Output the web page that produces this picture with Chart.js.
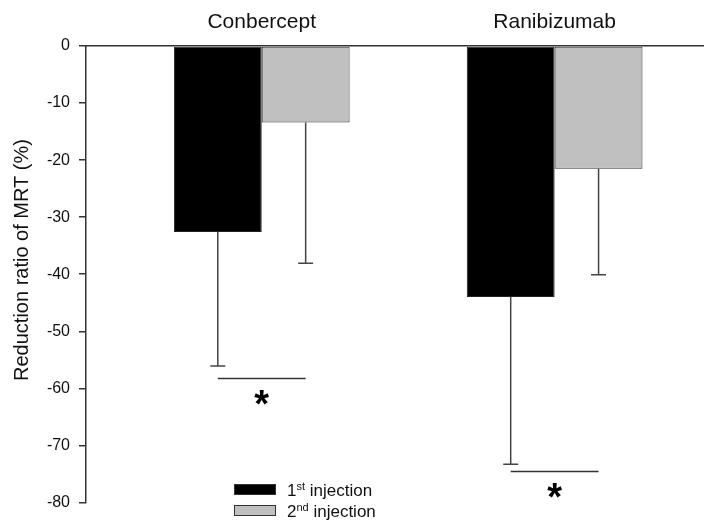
<!DOCTYPE html>
<html>
<head>
<meta charset="utf-8">
<script src="https://cdn.jsdelivr.net/npm/chart.js@4"></script>
<style>
  html, body { margin: 0; padding: 0; background: #fff; }
  #c { display: block; }
</style>
</head>
<body>
<canvas id="c" width="704" height="521"></canvas>
<script>
// ---- data ----
const categories = ['Conbercept', 'Ranibizumab'];
const catPos = [1, 2];
const firstInjection = [-32.6, -44.0];
const secondInjection = [-13.4, -21.5];
const firstSD = [23.5, 29.3];
const secondSD = [24.7, 18.6];
const sigLevel = [-58.3, -74.6];
const sigMark = ['*', '*'];
const legendNum = ['1', '2'];
const legendSup = ['st', 'nd'];
const legendRest = [' injection', ' injection'];
const yTitle = 'Reduction ratio of MRT (%)';
const yMin = -80, yMax = 0, yStep = 10;

const FONT = '"Liberation Sans", Arial, sans-serif';
const sdList = [firstSD, secondSD];

const errorBars = {
  id: 'errorBars',
  afterDatasetsDraw(chart) {
    const ctx = chart.ctx;
    const ys = chart.scales.y;
    ctx.save();
    ctx.strokeStyle = '#444';
    ctx.lineWidth = 1.5;
    chart.data.datasets.forEach((ds, i) => {
      const meta = chart.getDatasetMeta(i);
      meta.data.forEach((el, j) => {
        const v = ds.data[j].y;
        const yEnd = ys.getPixelForValue(v - sdList[i][j]);
        ctx.beginPath();
        ctx.moveTo(el.x, el.y);
        ctx.lineTo(el.x, yEnd);
        ctx.moveTo(el.x - 7.5, yEnd);
        ctx.lineTo(el.x + 7.5, yEnd);
        ctx.stroke();
      });
    });
    // significance lines
    const m0 = chart.getDatasetMeta(0), m1 = chart.getDatasetMeta(1);
    sigLevel.forEach((lv, j) => {
      const y = ys.getPixelForValue(lv);
      const x0 = m0.data[j].x, x1 = m1.data[j].x;
      ctx.strokeStyle = '#333';
      ctx.lineWidth = 1.5;
      ctx.beginPath();
      ctx.moveTo(x0, y);
      ctx.lineTo(x1, y);
      ctx.stroke();
      ctx.fillStyle = '#000';
      ctx.font = 'bold 38px ' + FONT;
      ctx.textAlign = 'center';
      ctx.textBaseline = 'alphabetic';
      ctx.fillText(sigMark[j], (x0 + x1) / 2, y + 38);
    });
    ctx.restore();
  }
};

const customLegend = {
  id: 'customLegend',
  afterDraw(chart) {
    const ctx = chart.ctx;
    const ds = chart.data.datasets;
    ctx.save();
    // y-axis title
    ctx.save();
    ctx.translate(22, 260);
    ctx.rotate(-Math.PI / 2);
    ctx.fillStyle = '#111';
    ctx.font = '20px ' + FONT;
    ctx.textAlign = 'center';
    ctx.textBaseline = 'middle';
    ctx.fillText(yTitle, 0, 0);
    ctx.restore();
    ds.forEach((d, i) => {
      const by = 484 + i * 21;
      ctx.fillStyle = d.backgroundColor;
      ctx.fillRect(234, by, 42, 11);
      ctx.strokeStyle = '#333';
      ctx.lineWidth = 1;
      ctx.strokeRect(234.5, by + 0.5, 41, 10);
      ctx.fillStyle = '#111';
      ctx.textAlign = 'left';
      ctx.textBaseline = 'alphabetic';
      const base = by + 12;
      let x = 287;
      ctx.font = '17px ' + FONT;
      ctx.fillText(legendNum[i], x, base);
      x += ctx.measureText(legendNum[i]).width;
      ctx.font = '11px ' + FONT;
      ctx.fillText(legendSup[i], x, base - 6);
      x += ctx.measureText(legendSup[i]).width;
      ctx.font = '17px ' + FONT;
      ctx.fillText(legendRest[i], x, base);
    });
    ctx.restore();
  }
};

new Chart(document.getElementById('c'), {
  type: 'bar',
  data: {
    datasets: [
      {
        label: '1st injection',
        data: catPos.map((x, i) => ({ x, y: firstInjection[i] })),
        backgroundColor: '#000000',
        borderColor: '#222',
        borderWidth: 1,
        borderSkipped: false
      },
      {
        label: '2nd injection',
        data: catPos.map((x, i) => ({ x, y: secondInjection[i] })),
        backgroundColor: '#c0c0c0',
        borderColor: '#333',
        borderWidth: 1,
        borderSkipped: false
      }
    ]
  },
  options: {
    responsive: false,
    animation: false,
    devicePixelRatio: 1,
    categoryPercentage: 0.6,
    barPercentage: 1.0,
    layout: { padding: { left: 0, right: 0, top: 0, bottom: 10 } },
    plugins: { legend: { display: false }, tooltip: { enabled: false } },
    scales: {
      x: {
        type: 'linear',
        position: 'top',
        offset: false,
        min: 0.4,
        max: 2.51,
        afterBuildTicks: s => { s.ticks = catPos.map(v => ({ value: v })); },
        afterFit: s => { s.height = 46; },
        grid: { display: false },
        border: { display: true, color: '#333', width: 1.5 },
        ticks: {
          callback: (v, i) => categories[i],
          font: { family: FONT, size: 21 },
          color: '#111',
          padding: 3,
          maxRotation: 0,
          autoSkip: false
        }
      },
      y: {
        min: yMin,
        max: yMax,
        afterFit: s => { s.width = 86; },
        grid: { drawOnChartArea: false, drawTicks: true, tickLength: 7, color: '#333', lineWidth: 1.5 },
        border: { display: true, color: '#333', width: 1.5 },
        ticks: {
          stepSize: yStep,
          font: { family: FONT, size: 16 },
          color: '#111',
          padding: 9
        },
        title: { display: false }
      }
    }
  },
  plugins: [errorBars, customLegend]
});
</script>
</body>
</html>
